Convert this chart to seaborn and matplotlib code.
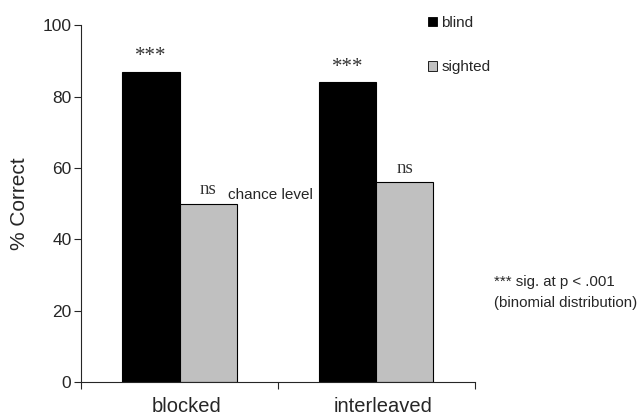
import matplotlib
matplotlib.use("Agg")
import matplotlib.pyplot as plt
import matplotlib.transforms as mtransforms
from matplotlib.patches import Patch
import seaborn as sns
import pandas as pd

conditions = ["blocked", "interleaved"]
groups = ["blind", "sighted"]
blind_pct = [87, 84]
sighted_pct = [50, 56]
sig_labels = {"blind": ["***", "***"], "sighted": ["ns", "ns"]}
colors = {"blind": "#000000", "sighted": "#c0c0c0"}

df = pd.DataFrame({
    "condition": conditions * 2,
    "group": ["blind"] * 2 + ["sighted"] * 2,
    "pct": blind_pct + sighted_pct,
})

sns.set_style("ticks")
plt.rcParams["font.family"] = ["Liberation Sans", "DejaVu Sans"]

fig = plt.figure(figsize=(6.39, 4.2), dpi=100)
ax = fig.add_axes([0.127, 0.0905, 0.616, 0.8495])

sns.barplot(data=df, x="condition", y="pct", hue="group", order=conditions,
            hue_order=groups, palette=colors, width=0.58, edgecolor="black",
            linewidth=0.8, saturation=1, legend=False, ax=ax)

for cont, grp in zip(ax.containers, groups):
    size = 15 if grp == "blind" else 13.5
    ax.bar_label(cont, labels=sig_labels[grp], padding=4, color="#333333",
                 fontsize=size, family="Liberation Serif")

ax.text(0.245, 52.5, "chance level", fontsize=11, va="center", ha="left")

ax.set_xlim(-0.5, 1.5)
ax.set_ylim(0, 100)
ax.set_yticks([0, 20, 40, 60, 80, 100])
ax.set_xticks([-0.5, 0.5, 1.5], minor=True)
ax.tick_params(axis="x", which="major", length=0, labelsize=14.5, pad=11)
ax.tick_params(axis="x", which="minor", length=5, width=0.8, direction="out")
ax.tick_params(axis="y", length=5, width=0.8, labelsize=12.5, pad=2)
ax.set_xlabel("")
ax.set_ylabel("% Correct", fontsize=15, labelpad=10)
sns.despine(ax=ax)
for s in ("left", "bottom"):
    ax.spines[s].set_linewidth(0.8)

# category labels sit slightly right of the group centres
shift = mtransforms.ScaledTranslation(7 / 100, 0, fig.dpi_scale_trans)
for lbl in ax.get_xticklabels():
    lbl.set_transform(lbl.get_transform() + shift)

handles = [Patch(facecolor=colors[g], edgecolor="black", linewidth=0.6) for g in groups]
fig.legend(handles, groups, loc="upper left", bbox_to_anchor=(0.649, 0.995),
           frameon=False, fontsize=11, handlelength=0.55, handleheight=0.55,
           handletextpad=0.3, labelspacing=2.0)

fig.text(0.773, 0.328, "*** sig. at p < .001", fontsize=10.8, va="center")
fig.text(0.773, 0.278, "(binomial distribution)", fontsize=10.8, va="center")

fig.savefig("out.png", dpi=100)
